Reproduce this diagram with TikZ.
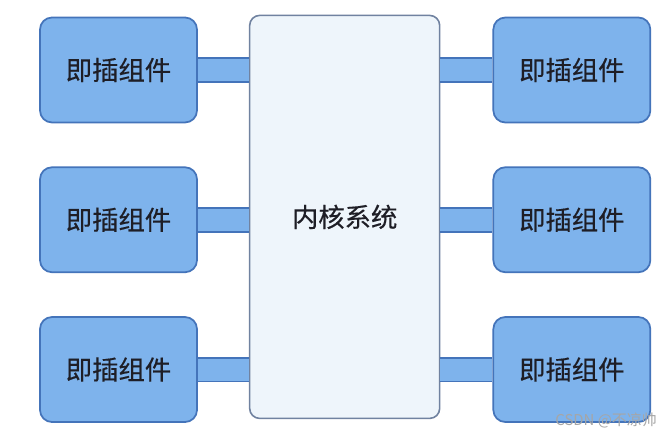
\documentclass[tikz,border=0pt]{standalone}
\usepackage{fontspec}
\newfontfamily\cjk[FakeBold=0.4]{Noto Sans CJK SC}
\newfontfamily\cjkmark{Noto Sans CJK SC}
\usepackage{tikz}
\usetikzlibrary{positioning, calc}
\definecolor{plugfill}{RGB}{126,179,236}
\definecolor{plugdraw}{RGB}{68,116,186}
\definecolor{corefill}{RGB}{238,245,251}
\definecolor{coredraw}{RGB}{112,130,160}
\definecolor{txt}{RGB}{30,30,38}
\tikzset{
    plugin/.style={rectangle, rounded corners=0.24cm, draw=plugdraw, fill=plugfill, line width=1pt, minimum width=3.14cm, minimum height=2.1cm, text centered, text=txt, font=\cjk\fontsize{15}{18}\selectfont},
    core/.style={rectangle, rounded corners=0.2cm, draw=coredraw, fill=corefill, line width=0.9pt, minimum width=3.8cm, minimum height=8.06cm, text centered, text=txt, font=\cjk\fontsize{15}{18}\selectfont},
    bar/.style={draw=plugdraw, line width=1pt, double=plugfill, double distance=0.44cm},
    mark text/.style={text=black!35, font=\cjkmark\fontsize{8.5}{10}\selectfont},
}
\begin{document}
\begin{tikzpicture}
    \useasboundingbox[fill=white] (0,0) rectangle (13.34,-8.7);
        % Nodes
        \node[plugin] (l1) at (2.37,-1.4) {即插组件};
        \node[plugin, below=0.86cm of l1] (l2) {即插组件};
        \node[plugin, below=0.86cm of l2] (l3) {即插组件};

        \node[core, anchor=north west] (core) at ($(l1.north east)+(1.02,0.04)$) {内核系统};

        \node[plugin, anchor=west] (r1) at ($(core.east |- l1)+(1.04,0)$) {即插组件};
        \node[plugin, below=0.86cm of r1] (r2) {即插组件};
        \node[plugin, below=0.86cm of r2] (r3) {即插组件};

        % Connections
        \draw[bar] (l1.east) -- (core.west |- l1.east);
        \draw[bar] (l2.east) -- (core.west |- l2.east);
        \draw[bar] (l3.east) -- (core.west |- l3.east);
        \draw[bar] (core.east |- r1.west) -- (r1.west);
        \draw[bar] (core.east |- r2.west) -- (r2.west);
        \draw[bar] (core.east |- r3.west) -- (r3.west);

        \node[mark text, anchor=east] (wm) at (13.26,-8.42) {CSDN @不凉帅};
\end{tikzpicture}
\end{document}
